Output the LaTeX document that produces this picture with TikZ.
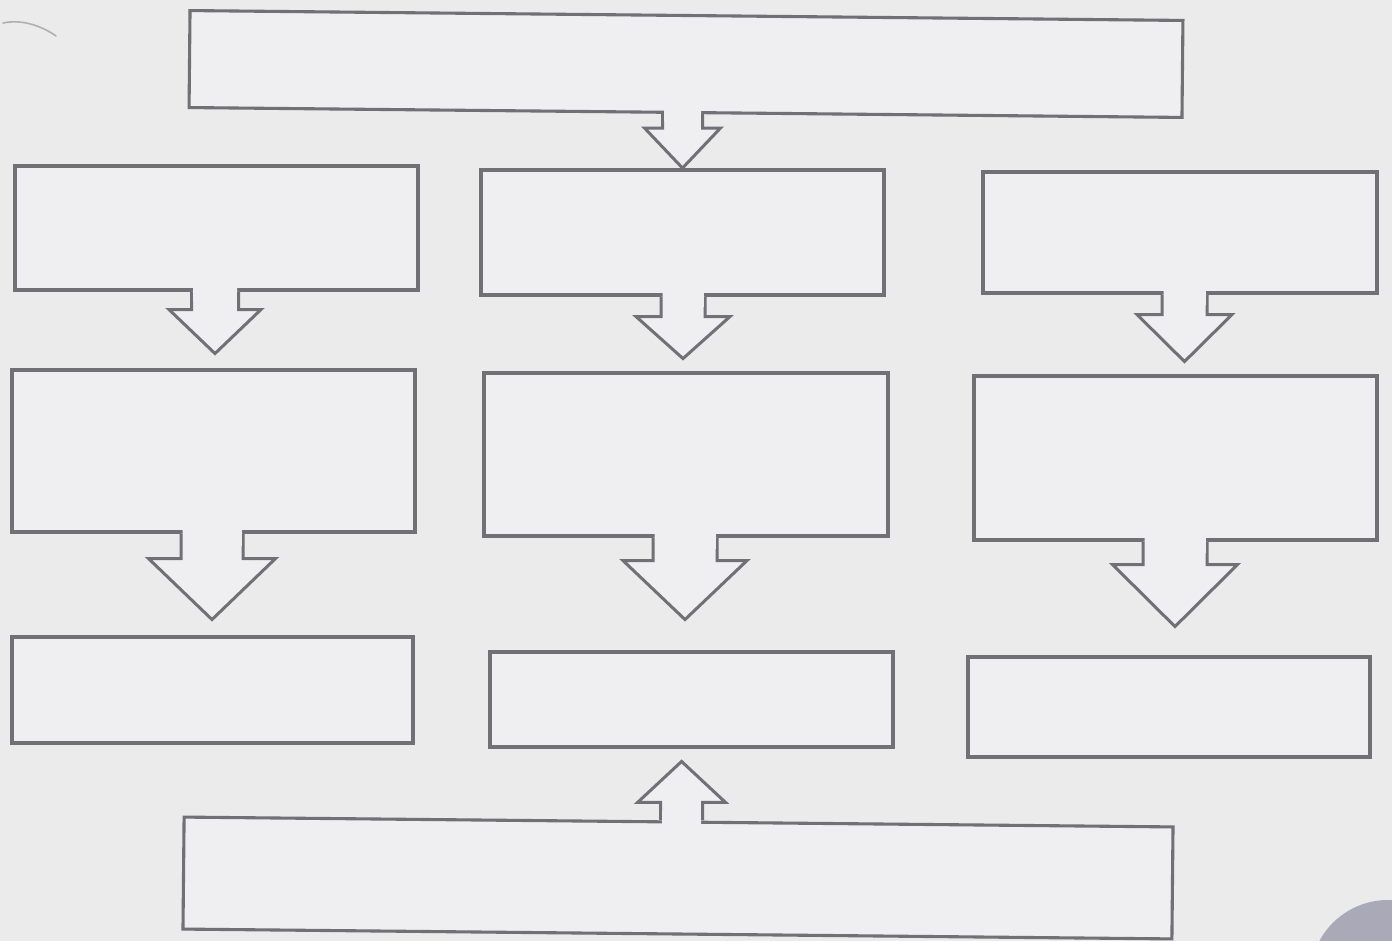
\documentclass[tikz,border=0pt]{standalone}
\usetikzlibrary{calc}
\definecolor{paper}{HTML}{EBEBEB}
\definecolor{boxfill}{HTML}{EFEFF2}
\definecolor{edge}{HTML}{707075}
\definecolor{dot}{HTML}{A9A9B7}
\tikzset{
  card/.style={draw=edge, fill=boxfill, line width=3.1pt, inner sep=0pt, rectangle},
  blockline/.style={draw=edge, line width=3pt, line join=miter},
}
% \barrow{anchor}{half shaft}{half head}{base offset}{tip offset}{overlap}
\newcommand{\barrow}[6]{%
  \begin{scope}[shift={#1}]
    \fill[boxfill] (-#2+1.5,#6) -- (-#2+1.5,#4) -- (-#3,#4) -- (0,#5) -- (#3,#4) -- (#2-1.5,#4) -- (#2-1.5,#6) -- cycle;
    \draw[blockline, fill=boxfill] (-#2,0) -- (-#2,#4) -- (-#3,#4) -- (0,#5) -- (#3,#4) -- (#2,#4) -- (#2,0);
    \fill[boxfill] (-#2+1.5,#6) rectangle (#2-1.5,#4*0.5);
  \end{scope}}
\begin{document}
\begin{tikzpicture}[x=1pt,y=-1pt]
  \fill[paper] (0,0) rectangle (1392,941);
  \useasboundingbox (0,0) rectangle (1392,941);
  % faint scan mark
  \draw[paper!75!black, line width=1.6pt, line cap=round] (3,23) .. controls (22,19) and (42,26) .. (56,36);
  % boxes
  \node[card, minimum width=993pt, minimum height=97pt, rotate=-0.57] (top) at (686,64) {};
  \node[card, minimum width=403pt, minimum height=124pt] (l1) at (216.5,228) {};
  \node[card, minimum width=403pt, minimum height=125pt] (m1) at (682.5,232.5) {};
  \node[card, minimum width=394pt, minimum height=121pt] (r1) at (1180,232.5) {};
  \node[card, minimum width=403pt, minimum height=162pt] (l2) at (213.5,451) {};
  \node[card, minimum width=404pt, minimum height=163pt] (m2) at (686,454.5) {};
  \node[card, minimum width=403pt, minimum height=164pt] (r2) at (1175.5,458) {};
  \node[card, minimum width=401pt, minimum height=106pt] (l3) at (212.5,690) {};
  \node[card, minimum width=403pt, minimum height=95pt] (m3) at (691.5,699.5) {};
  \node[card, minimum width=402pt, minimum height=100pt] (r3) at (1169,707) {};
  \node[card, minimum width=989pt, minimum height=112pt, rotate=-0.57] (bot) at (678,878) {};
  % block arrows
  \barrow{([xshift=-3pt]top.south)}{20}{38}{14}{54}{-4}
  \barrow{([xshift=-1.5pt]l1.south)}{23.5}{46}{18}{62}{-4}
  \barrow{([xshift=0.5pt]m1.south)}{22}{47}{20}{62}{-4}
  \barrow{([xshift=4.5pt]r1.south)}{22.5}{47.5}{20}{67}{-4}
  \barrow{([xshift=-1.5pt]l2.south)}{31}{63.5}{25}{86}{-4}
  \barrow{([xshift=-1pt]m2.south)}{32}{62}{23}{82}{-4}
  \barrow{([xshift=-0.5pt]r2.south)}{32}{62.5}{23}{85}{-4}
  \barrow{([xshift=3pt]bot.north)}{21}{44}{-18}{-59}{4}
  % page dot
  \fill[dot] (1388,978) circle (78);
\end{tikzpicture}
\end{document}
